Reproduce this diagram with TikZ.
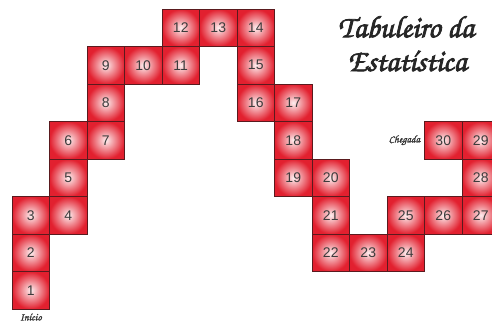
\documentclass[tikz,border=0pt]{standalone}
\usepackage{fontspec}
\setsansfont{Liberation Sans}
\newfontfamily\chorus[FakeBold=2.5]{texgyrechorus-mediumitalic.otf}
\newfontfamily\chorussmall[FakeBold=1.5]{texgyrechorus-mediumitalic.otf}
\definecolor{cellred}{HTML}{E2202F}
\definecolor{cellpink}{HTML}{FDEEEF}
\definecolor{cellline}{HTML}{5A1A1E}
\definecolor{numgray}{HTML}{3C3C3C}
\tikzset{
  cell/.style={rectangle, minimum size=37.5pt, inner sep=0pt, draw=cellline, line width=0.7pt,
    shading=radial, inner color=cellpink, outer color=cellred,
    font=\sffamily\fontsize{14}{14}\selectfont, text=numgray},
  titletext/.style={font=\chorus\fontsize{31}{31}\selectfont, text=black!85, inner sep=0pt},
  smalltext/.style={font=\chorussmall\fontsize{10.5}{10.5}\selectfont, text=black!80, inner sep=0pt}
}
\begin{document}
\begin{tikzpicture}[x=1pt,y=-1pt]
\useasboundingbox (0,0) rectangle (492,324);
\foreach \n/\c/\r in {1/0/7,2/0/6,3/0/5,4/1/5,5/1/4,6/1/3,7/2/3,8/2/2,9/2/1,10/3/1,
  11/4/1,12/4/0,13/5/0,14/6/0,15/6/1,16/6/2,17/7/2,18/7/3,19/7/4,20/8/4,
  21/8/5,22/8/6,23/9/6,24/10/6,25/10/5,26/11/5,27/12/5,28/12/4,29/12/3,30/11/3}
  \node[cell] (c\n) at ({30.75+37.5*\c},{27.75+37.5*\r}) {\n};
\node[titletext] (t1) at (406,27) {Tabuleiro da};
\node[titletext] (t2) at (407,61) {Estatística};
\node[smalltext, anchor=north] (ini) at (c1.south) [yshift=-4pt] {Início};
\node[smalltext, anchor=east] (che) at (c30.west) [xshift=-4pt] {Chegada};
\end{tikzpicture}
\end{document}
